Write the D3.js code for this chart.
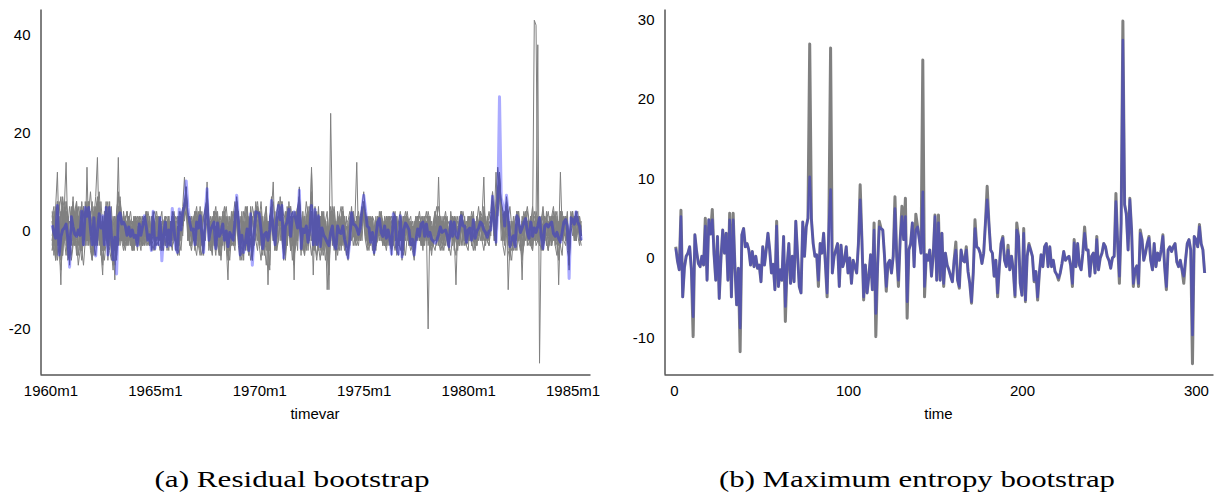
<!DOCTYPE html>
<html><head><meta charset="utf-8">
<script src="https://cdn.jsdelivr.net/npm/d3@7"></script>
<style>
body{margin:0;background:#fff}
svg{display:block}
</style>
</head><body>
<svg id="chart" width="1219" height="493"></svg>
<script>
// Original series (same series drawn in blue in both panels), t = 1..305
const original = [
1.2,-0.4,-1.5,5.2,-4.9,-1.2,0.2,0.6,1.4,-1.5,
-7.4,2.9,0.8,-0.7,-1.1,0.2,-0.9,4.0,-2.8,4.8,
3.0,4.8,0.5,-2.8,2.7,-5.1,0.0,3.5,0.6,3.1,
-2.8,4.8,-4.9,4.8,-1.0,-5.9,-1.3,-8.8,2.9,3.7,
1.4,1.8,1.0,-0.9,0.8,-1.1,0.2,-1.3,-0.9,-3.0,
1.4,-0.9,1.0,3.1,1.0,-1.9,-0.8,-4.0,4.0,-3.6,
-1.5,-2.8,2.7,-6.1,-1.0,1.8,-3.2,0.2,-3.0,4.6,
0.5,-3.6,-4.4,4.5,0.2,3.9,5.0,10.2,4.8,1.8,
0.2,0.4,-2.8,1.8,0.6,3.1,-0.7,-4.4,3.9,8.6,
-1.9,0.2,1.0,1.8,-3.6,1.6,-1.1,-0.3,1.4,-1.9,
0.0,-3.2,-0.3,-1.1,-1.9,1.8,7.3,2.3,-4.9,-0.9,
-4.4,-2.3,0.4,-4.0,3.5,-7.0,-1.1,3.9,3.7,3.5,
0.2,-3.6,-0.7,-0.3,-1.9,0.2,6.2,0.2,-2.8,2.3,
5.2,2.3,5.2,-5.5,1.0,1.8,4.4,-1.1,3.5,3.9,
2.3,0.6,8.3,-3.6,0.4,-0.3,1.0,-2.3,0.4,5.2,
-2.8,4.4,-2.8,3.1,-3.2,0.6,-0.9,-1.5,-2.3,-3.0,
-0.3,1.0,-2.8,-3.6,1.0,-0.3,-0.5,1.0,-1.7,-3.2,
-5.5,-1.9,3.7,1.4,1.2,0.6,-0.7,0.6,4.4,7.3,
4.4,1.0,0.6,-2.3,-0.3,-4.4,-1.1,1.8,2.5,-0.3,
-1.1,1.0,-1.5,0.2,-1.5,-4.7,3.5,2.7,-3.2,-4.7,
3.1,-5.3,0.2,1.6,1.0,0.2,-2.8,-1.7,-4.9,-1.9,
0.4,-1.1,1.4,1.8,-1.1,1.4,-1.1,-0.3,-1.7,-2.1,
-2.5,-1.9,-0.7,0.8,-0.3,0.0,0.2,-1.0,-3.2,1.9,
-1.1,1.8,-0.9,-1.5,0.6,3.1,1.0,1.0,-2.3,0.2,
0.6,-1.9,2.3,-1.5,0.0,0.6,1.8,1.4,0.2,-0.3,
-1.3,0.0,0.2,7.1,1.8,-2.3,4.4,27.4,6.7,5.2,
1.0,7.3,3.5,-3.2,-1.5,-1.0,-3.2,3.1,2.3,-0.3,
0.6,1.8,2.5,-0.3,-1.5,1.8,-1.1,0.6,-0.3,1.0,
2.7,-1.1,-3.6,1.0,1.4,0.8,1.4,1.8,-0.5,-1.1,
-0.3,-1.5,-2.3,-0.3,1.8,2.3,1.0,-9.7,2.7,2.3,
1.4,3.9,1.8,1.0,-1.9];

// Maximum entropy bootstrap replicate envelope (gray, right panel)
const entropyReplicate = [
1.4,-0.4,-1.5,6.0,-4.9,-1.2,0.2,0.6,1.4,-1.5,
-9.9,2.9,0.8,-0.7,-1.1,0.2,-0.9,5.0,-2.8,4.8,
3.0,6.1,0.5,-2.8,2.7,-5.1,0.0,3.5,0.6,3.1,
-2.8,5.6,-4.9,5.6,-1.0,-5.9,-1.3,-11.8,2.9,3.7,
1.4,1.8,1.0,-0.9,0.8,-1.1,0.2,-1.3,-0.9,-3.0,
1.4,-0.9,1.0,3.1,1.0,-1.9,-0.8,-4.0,4.6,-3.6,
-1.5,-2.8,2.7,-8.0,-1.0,1.8,-3.2,0.2,-3.0,4.6,
0.5,-3.6,-4.4,4.5,0.2,3.9,5.0,26.9,4.8,1.8,
0.2,0.4,-3.6,1.8,0.6,3.1,-0.7,-4.9,3.9,26.4,
-1.9,0.2,1.0,1.8,-3.6,1.6,-1.1,-0.3,1.4,-1.9,
0.0,-3.2,-0.3,-1.1,-1.9,1.8,9.2,2.3,-5.3,-0.9,
-4.4,-2.3,0.4,-4.0,4.4,-9.9,-1.1,4.6,3.7,3.5,
0.2,-4.2,-0.7,-0.3,-1.9,0.2,7.7,0.2,-3.6,2.3,
6.5,2.3,7.5,-7.6,1.0,1.8,4.4,-1.1,5.5,3.9,
2.3,0.6,24.9,-4.9,0.4,-0.3,1.0,-2.3,0.4,5.4,
-2.8,5.4,-2.8,3.1,-3.6,0.6,-0.9,-1.5,-2.3,-3.0,
-0.3,2.0,-2.8,-3.8,1.0,-0.3,-0.5,1.4,-1.7,-3.2,
-5.7,-1.9,4.8,1.4,1.2,0.6,-0.7,0.6,4.4,9.0,
4.4,1.0,0.6,-2.3,-0.3,-4.9,-1.1,1.8,2.7,-0.3,
-1.1,1.6,-1.5,0.2,-1.5,-4.9,4.4,2.7,-3.2,-4.7,
3.7,-5.5,0.2,1.8,1.0,0.2,-3.0,-1.7,-5.3,-1.9,
0.4,-1.1,1.4,1.8,-1.1,1.4,-1.1,-0.3,-1.7,-2.1,
-2.8,-1.9,-0.7,0.8,-0.3,0.0,0.2,-1.0,-3.6,2.3,
-1.1,1.8,-0.9,-1.5,0.6,3.9,1.0,1.0,-2.3,0.2,
0.6,-1.9,2.7,-1.5,0.0,0.6,1.8,1.4,0.2,-0.3,
-1.3,0.0,0.2,8.1,1.8,-3.2,4.4,29.8,6.7,5.6,
1.0,7.5,3.5,-3.6,-1.5,-1.0,-3.6,3.5,2.3,-0.3,
0.6,1.8,2.7,-0.3,-1.5,1.8,-1.1,0.6,-0.3,1.0,
2.9,-1.1,-4.0,1.0,1.4,0.8,1.4,1.8,-0.5,-1.1,
-0.3,-1.5,-3.2,-0.3,1.8,2.3,1.0,-13.3,2.7,2.3,
1.4,4.2,1.8,1.0,-1.9];

// Residual bootstrap replicates (gray, left panel)
const rep1 = [2,-3,5,12,-2,1,-4,3,0,-5,-6,4,1,-2,3,-1,5,2,-3,6,1,4,-2,-5,3,7,15,-1,2,-4,3,5,-6,2,-2,-7,1,-3,4,6,2,-1,3,0,-2,1,-3,2,-1,-4,1,3,-2,2,4,-1,0,-3,2,-4,0,-2,3,-3,1,2,-4,1,-2,3,1,-3,-2,4,2,5,11,6,3,-1,2,0,-4,3,1,2,-2,-5,4,7,-1,2,0,3,-4,2,-2,1,3,-3,1,-4,0,-2,-3,2,6,3,-5,1,-4,-1,2,-5,5,-6,0,4,5,3,1,-4,2,-1,-3,1,7,0,-3,4,6,2,5,-6,3,1,5,-2,4,2,3,-1,9,-4,2,-2,1,-3,2,7,-3,5,-2,4,-4,1,-3,-1,-4,-6,24,2,-3,-4,3,-1,1,2,-3,-4,-6,-2,4,2,0,3,-2,1,5,8,4,2,-1,-3,1,-5,-2,3,2,0,-2,1,-3,2,-1,-5,4,3,-4,-5,3,-6,1,2,0,1,-3,-2,-5,-1,2,-2,3,1,-2,2,-3,0,-2,-3,-4,-1,1,2,-1,1,0,-2,-4,3,-2,3,-1,-3,1,4,2,0,-3,1,2,-3,3,-2,1,0,3,2,1,-1,-2,1,0,8,3,-3,6,11,6,4,2,7,4,-4,-2,0,-4,4,3,-1,1,3,2,-1,-2,3,1,43,42,2,2,-1,-4,2,1,0,2,3,-1,-2,0,-2,12,0,2,3,1,-8,3,2,1,4,2,0,-2];
const rep2 = [-3,4,-6,1,-2,-11,3,-1,6,2,-4,1,7,-3,2,-5,0,4,-2,1,5,-3,2,6,-4,1,-2,3,-5,2,-1,4,-3,6,-5,2,3,1,15,-2,1,-3,2,4,-1,0,-4,3,1,-2,2,-1,-3,1,3,-2,2,-1,0,-3,3,-1,2,-4,0,3,-2,2,-3,1,-2,2,-4,3,1,-1,6,9,-2,3,-3,2,0,4,-2,5,-3,-1,2,6,-4,1,3,-2,-5,0,2,-3,4,-1,2,-5,1,3,-2,-4,5,1,-3,4,-6,2,-1,-3,4,-5,1,6,0,2,-3,2,-5,3,-11,2,4,-2,1,-4,3,5,-1,-4,2,-3,6,1,-2,4,-1,3,6,-5,4,-1,-3,2,5,-2,1,-4,3,-2,2,-5,4,-1,-3,2,5,-2,1,-6,2,3,-4,0,2,-2,-3,1,5,-1,3,14,-2,2,1,4,2,-3,0,1,-4,-2,3,-1,4,-2,1,-3,2,-1,3,-2,1,4,-5,0,-2,3,-4,2,1,-3,2,-1,-3,1,3,-2,0,-4,2,1,-1,3,-2,0,1,-3,2,-1,3,-2,2,1,-2,-1,2,-4,1,3,-2,1,-3,2,0,-2,3,-1,-2,2,-3,1,4,-1,2,1,0,-2,3,5,-1,2,8,10,3,-2,4,2,-3,1,-2,3,0,-4,2,1,-3,2,4,-1,2,-3,1,3,2,38,-27,1,3,-2,4,-1,2,-3,1,4,-2,1,-3,3,-1,2,-4,-6,2,4,-1,3,0,2,-1];
const rep3 = [4,-2,1,-5,6,2,-3,5,14,-1,-5,3,-2,1,6,-3,2,-4,5,0,-2,6,3,-1,-4,2,5,-3,1,-2,4,-1,-5,3,2,-1,-10,4,1,-3,3,0,-2,2,-3,1,2,-1,3,-2,-1,2,1,-3,2,0,-2,3,-1,1,2,-3,1,0,-2,3,-1,-3,2,-2,3,-1,-3,2,4,1,5,8,-1,2,1,-2,3,-1,2,-3,4,-3,1,5,2,-2,-1,4,-2,3,-4,2,-1,3,-3,-10,2,1,-2,4,3,-2,-4,2,-1,-3,4,-2,2,-4,3,1,5,-1,2,-1,-3,4,-4,2,5,-1,-2,3,1,4,3,-2,-3,5,2,-4,3,1,-2,4,5,-3,1,-2,3,-4,1,13,-1,2,-3,5,-2,3,-4,2,-1,-5,2,-3,4,-1,-2,2,-3,4,1,-2,-4,2,3,-1,2,-2,1,3,2,6,3,-1,2,-2,3,-4,1,-2,3,1,-3,2,0,-1,2,-3,3,1,-2,-3,2,-4,3,-1,2,-2,1,-3,-2,1,-1,2,-3,3,0,1,-20,2,-1,1,-2,1,3,-1,2,-2,1,-3,-1,2,1,-2,2,-1,3,2,-2,1,-3,2,-1,2,1,-2,3,-1,2,3,11,-2,1,-2,2,6,0,-1,9,12,4,3,-1,5,2,-2,-3,1,-2,3,1,-2,2,-1,3,1,-2,2,-3,2,1,-1,3,-2,-1,2,-3,1,3,-1,2,-2,1,-3,2,-2,3,1,-1,-5,4,1,2,1,3,-1,0];
const rep4 = [-2,3,-4,2,-1,4,-5,1,3,-6,-3,2,5,-1,-4,3,-2,6,1,-3,13,-2,4,-3,1,5,-2,2,-4,-9,2,3,-2,4,1,-4,2,-5,3,1,-2,4,1,-3,2,-1,1,-4,2,0,3,-2,2,-1,-3,2,1,-4,3,-2,-2,1,3,-2,-4,2,0,3,-1,2,1,-4,-1,3,-2,4,6,7,2,-1,-1,3,-2,2,-3,1,3,-3,2,4,3,-1,-3,2,-2,4,-1,-2,2,-4,3,-2,-1,4,-3,1,4,-1,-2,3,-3,1,-4,2,3,-5,2,3,-2,4,-1,3,-2,-4,2,-1,4,10,-2,1,4,-2,3,-3,2,4,-1,2,-3,3,2,-4,6,-2,3,1,-4,2,-1,4,-4,3,-1,2,-3,4,-2,1,-12,-3,3,1,-4,2,-1,-3,2,1,-2,3,-2,-1,2,4,-3,2,1,-1,3,5,1,3,-2,-1,2,-3,-2,2,-1,3,2,-1,-2,3,-3,1,2,-2,1,-2,-1,2,-3,3,-2,2,0,-3,1,-2,2,1,-2,-1,3,-2,2,-4,1,-1,3,-1,11,-2,1,-3,2,0,-2,1,-3,2,2,-2,1,3,-1,-2,2,-1,1,-3,4,-1,-2,2,1,-1,3,0,2,1,-1,5,2,-3,7,9,2,3,3,4,-12,-2,2,-1,-3,2,4,-2,1,-2,3,-3,2,1,-1,2,-2,3,1,2,-3,3,-1,2,-2,1,3,-3,2,-1,4,-2,-1,3,2,-4,1,3,-2,2,1,3,0];
const rep5 = [1,-5,3,4,-3,2,6,-2,-1,3,-7,1,-2,4,-1,2,-3,1,4,-2,2,5,-3,-6,4,-1,3,-2,6,1,-4,2,1,-3,5,-2,-1,3,-3,4,1,-2,3,-1,1,-3,2,0,-2,1,-2,1,3,-1,2,-2,-3,1,3,-1,1,-2,0,-3,2,-1,2,-2,-1,4,-1,2,-3,1,3,2,4,6,3,-2,2,-1,-3,1,2,4,-2,-3,1,10,-2,3,1,-1,-2,3,1,-2,2,-1,-2,1,-4,2,-1,3,5,2,-3,-1,2,-3,1,-4,3,-2,-1,2,3,4,-2,1,-1,2,-3,-1,3,1,-4,2,2,3,4,-3,-1,2,3,-1,2,-10,4,-2,3,-1,-2,2,-3,1,3,2,-2,1,-1,3,-2,2,-1,-3,2,-4,1,3,-2,-1,2,-2,1,-1,3,-3,-1,2,1,3,-2,1,-1,2,3,4,-2,1,3,-2,-1,-3,2,1,-2,2,-1,3,-2,1,-1,-2,3,-1,2,-3,1,-2,2,-1,3,-1,-2,1,-3,2,-1,1,2,-2,1,-1,3,-2,-3,2,1,-2,3,1,-2,2,-1,1,-3,2,2,-1,-11,1,-2,3,2,-1,1,-2,-1,2,-2,1,2,-1,3,1,-2,2,1,-1,2,4,-2,5,13,8,3,1,-2,3,1,-1,2,-3,1,2,-2,1,-1,2,1,-2,1,3,-2,-1,2,-2,1,3,-2,1,2,-1,3,-2,1,-2,3,-11,1,-1,2,-2,1,-4,3,1,2,-1,3,1,-2];
const rep6 = [-1,2,-2,6,-4,1,-1,4,-3,2,-2,5,-1,-3,1,3,-4,2,-1,4,-2,3,2,-4,5,-3,2,4,-1,-3,1,6,-2,3,-4,-3,2,-6,5,2,-1,2,-2,1,3,-2,1,-1,0,-3,2,-1,1,2,-2,1,-2,-2,3,-3,-1,2,1,-4,-1,2,-2,1,-3,3,2,-2,-3,3,1,2,3,9,2,1,-1,2,-3,2,1,3,-1,-4,2,5,-1,1,2,-1,-3,2,-2,1,2,-2,1,-3,-1,2,-2,1,6,1,-4,2,-3,-2,2,-3,4,-4,1,3,2,1,1,-3,1,-2,-1,2,5,1,-2,2,3,1,4,-4,2,1,3,-1,2,3,1,-2,5,-3,1,-1,2,-2,1,4,-9,3,-1,2,-2,1,-1,-2,-3,-2,3,1,-2,-3,2,-1,0,2,-2,-3,-4,-1,3,1,2,1,-1,1,3,5,3,1,1,-2,0,-3,-1,2,2,0,-1,1,-2,1,-1,-4,3,2,-2,-3,2,-4,1,2,1,0,-2,-1,-3,-1,1,-1,2,1,-1,2,-2,0,-1,-2,-2,-1,0,1,0,1,0,-1,-2,2,-1,2,-1,-2,1,3,1,1,-2,0,1,-2,2,-1,0,1,2,1,0,-1,-1,0,1,6,2,12,3,7,5,4,1,5,2,-3,-1,-1,-3,3,2,0,-10,2,2,0,-1,2,-1,1,0,1,2,-1,-3,1,1,1,1,2,0,-1,0,-1,-2,0,2,2,1,-7,2,2,1,3,2,1,-1];
const rep7 = [3,-1,2,-3,1,-4,5,-2,4,-3,-4,2,3,-2,5,-1,2,-3,1,3,-3,4,-1,2,-2,4,-3,5,2,-1,2,-2,4,-3,-1,3,-4,2,-2,5,-2,3,1,-2,0,2,-1,3,-3,1,1,-3,2,1,-1,3,-2,0,2,-2,3,-1,-2,2,1,-3,2,-1,2,-3,-2,1,3,-1,2,3,2,5,1,3,-2,1,2,-3,3,-1,2,-2,3,4,1,-2,2,-3,1,-2,3,-1,-3,2,-1,3,-2,-3,2,-1,3,4,-2,1,2,-4,3,-1,-2,3,-3,2,4,-2,3,-2,1,-3,2,-4,3,2,1,-3,-2,4,2,1,-3,3,2,-3,1,-4,3,1,4,-2,-3,3,-1,2,-2,12,2,-3,1,-4,3,-2,2,-3,1,-12,4,-1,2,-2,3,1,-3,2,-1,1,-3,3,-2,1,-1,2,3,-2,1,3,2,-2,3,1,-2,1,-3,2,-1,3,-2,2,1,-3,2,-1,2,-2,3,-1,1,-3,2,-2,3,-1,1,2,-2,3,-2,1,-1,3,-2,2,1,-1,2,-3,2,1,-2,3,-1,2,-3,1,2,-1,3,-2,1,2,-3,1,-1,3,-2,2,-2,1,3,-1,2,-2,1,-1,2,3,-1,2,1,3,-2,4,6,10,2,-1,2,3,-1,2,-3,2,1,-2,3,-1,2,-3,1,2,-1,3,-2,1,-2,2,-1,2,1,-2,3,1,-2,2,-1,3,-2,2,-1,1,3,-2,2,-3,1,-1,3,-2,1,2,1];
const rep8 = [-4,1,4,-2,3,-6,2,5,-2,1,2,-3,4,1,-5,2,4,-1,-3,2,4,-2,1,3,-3,-2,6,1,-4,3,-3,2,5,-2,1,-3,3,-4,-1,6,3,-1,1,-3,2,-2,-1,2,1,-1,-3,2,0,2,-2,1,3,-2,-1,2,-1,3,-2,1,-3,1,2,-2,1,-1,3,-2,1,-3,2,1,3,4,-2,2,3,-1,1,-2,4,-2,1,3,-2,3,-3,2,-1,4,-2,-3,1,3,-1,2,2,-1,3,-2,1,-3,2,-1,3,-2,1,2,-3,3,-1,2,4,-2,1,-3,4,-1,2,1,-3,3,2,-2,4,-1,-1,3,-2,2,4,-3,1,3,-1,2,-3,2,4,-1,2,-4,3,1,-2,3,1,-2,4,-1,3,-3,1,2,-4,1,-2,3,1,-3,4,-1,2,-3,1,2,2,-3,1,2,-2,3,-1,2,-2,4,-1,2,-2,3,1,-3,2,-1,3,-2,2,-1,3,-2,1,2,-3,1,-1,2,-2,1,3,-1,2,-3,1,-1,2,-2,3,-1,2,-3,1,2,-1,3,-2,1,-1,2,-3,1,2,-1,3,-2,1,2,-2,1,3,-1,2,-3,1,2,-1,3,-2,3,1,-2,2,-1,3,-2,1,-1,3,-1,2,4,1,3,5,8,-2,1,-3,2,4,-1,2,1,-3,2,1,-2,3,1,-2,2,-1,3,1,-2,2,1,-2,3,-1,2,1,-3,2,1,-2,3,1,-2,3,-1,2,1,-2,-3,2,1,-1,2,1,-2,2];
const rep9 = [3,5,-2,-6,-3,2,7,4,-1,-5,-3,1,6,3,-2,-7,-4,2,5,1,-2,4,8,3,-3,-5,1,6,-1,-6,-2,3,5,-1,-4,-8,-2,4,7,2,-1,-3,2,4,1,-2,-4,-1,3,2,-2,-4,1,3,2,-1,-3,0,4,1,-3,-2,2,4,-1,-3,1,3,-2,-4,1,3,2,-2,-4,1,5,8,3,-2,-4,-1,3,5,1,-3,-5,-2,4,7,2,-3,-5,1,4,2,-2,-6,-1,3,5,1,-4,-2,3,6,2,-3,-6,-1,4,2,-3,-5,1,5,3,-2,-4,2,6,1,-3,-7,-2,3,5,1,-4,-2,3,7,2,-3,-5,1,4,-1,-6,-2,3,5,1,-4,-3,2,6,3,-2,-5,-1,4,2,-3,-6,-2,3,1,-4,-7,-1,3,5,1,-3,-4,2,4,-1,-3,-2,1,4,2,-2,-3,1,3,5,2,-2,-4,-1,2,3,-1,-3,-2,2,4,1,-2,-3,1,3,2,-2,-4,-1,2,4,1,-3,-5,-1,2,3,-1,-4,-2,2,4,1,-3,-2,1,3,-2,-5,-1,3,5,1,-2,-4,-1,2,3,-3,-5,-1,3,2,-2,-3,1,4,2,-3,-4,1,3,-1,-3,2,5,1,-2,-4,-1,2,4,1,6,3,-2,5,11,4,-3,-5,-1,3,5,1,-4,-2,3,4,-1,-5,-3,2,4,1,-2,-4,1,3,-1,-3,2,5,1,-2,-4,-1,3,2,-3,-5,1,4,2,-2,-3,2,-6,3,1,-2,3,4,-1,-3];
const rep10 = [-4,-1,3,6,2,-3,-5,1,4,2,-2,-6,-3,2,5,3,-1,-4,-2,3,6,2,-3,-5,1,4,7,2,-3,-7,-2,4,6,1,-3,-6,-1,3,8,3,-2,-4,-1,2,3,0,-3,-2,1,3,1,-2,-3,1,4,2,-1,-3,-2,2,4,1,-2,-4,-1,2,3,-1,-3,1,3,-1,-4,-2,2,4,6,7,1,-3,-2,2,4,1,-3,-5,-1,3,5,6,1,-4,-2,3,5,1,-3,-5,2,4,-1,-5,-2,3,1,4,6,-1,-5,-3,2,5,1,-4,-2,-6,1,4,6,2,-3,-5,1,3,-2,-4,5,2,-3,-1,4,2,6,-2,-6,-1,3,5,1,-5,-3,2,6,2,-3,-5,1,4,3,7,-2,-4,1,3,-1,-3,-5,2,4,-4,2,4,-1,-4,-2,3,5,1,-2,-5,-3,1,3,-1,-2,2,4,1,3,6,2,-1,-3,-1,2,-2,-4,1,3,1,-2,-3,1,3,1,-4,-2,2,3,-2,-4,-1,2,4,1,-2,-4,-3,1,3,2,-1,-3,-2,2,4,1,-2,-4,1,4,2,-1,-3,-2,2,4,1,-3,-1,3,1,-2,-4,1,3,2,-2,-1,3,2,-2,-4,-1,3,1,-2,2,4,1,-2,-3,2,5,4,3,7,12,2,-2,3,6,1,-3,-4,-1,3,2,-2,-4,1,4,2,-2,-3,2,5,1,-3,-2,3,1,-4,-2,2,4,1,-3,-1,2,4,-1,-3,-5,1,3,1,-4,2,4,1,-2,2,3,-1];
const rep11 = [2,-3,-6,-1,4,7,3,-2,-5,1,5,2,-3,-1,3,5,1,-4,-7,-2,3,6,1,-2,-5,-1,4,8,2,-3,-6,-2,3,5,2,-4,-7,1,5,4,1,-2,-4,-1,2,4,1,-3,-1,2,3,1,-3,-2,1,4,2,-2,-4,-1,2,3,-1,-3,1,3,-2,-4,1,3,2,-3,-5,1,3,2,5,9,2,-1,3,1,-3,-5,-1,4,2,-4,2,8,3,-2,-4,1,3,-1,-5,-2,3,5,1,-3,-6,-1,4,2,5,1,-4,-6,-2,3,5,1,-3,-5,2,4,1,-3,-6,-1,3,5,-3,-7,4,2,-1,3,6,1,-2,-5,3,4,1,-4,-2,-7,2,5,7,-1,-4,-2,3,5,-1,4,1,-3,-5,-1,3,2,-2,-6,-3,-5,3,5,2,-3,-4,1,3,-1,-4,-2,2,4,1,-3,-1,3,2,-2,1,5,3,-2,-1,2,-3,-5,-1,3,2,-1,-3,1,3,2,-2,-4,1,3,-1,-3,2,-3,-5,1,3,2,-2,-4,-6,-2,1,3,2,-1,-3,1,4,2,-2,-3,-1,3,5,2,-2,-4,-1,2,-2,4,1,-3,-5,-1,2,4,1,-3,-2,2,3,1,-2,-4,-1,2,4,3,-1,-3,1,3,4,8,-1,4,9,10,6,1,-2,5,3,-4,-6,-1,2,4,1,-3,-6,-2,3,5,2,-3,-4,1,4,2,-2,-4,1,3,2,-1,-3,2,4,-1,-3,-6,2,4,1,-2,3,-7,1,3,2,4,-1,-3,1];
const rep12 = [-2,1,5,3,-4,-8,-3,2,6,3,-1,-5,-2,4,6,1,-3,-6,-1,4,5,1,-4,-6,-2,3,6,2,-3,-4,2,5,1,-4,-6,-3,2,-5,3,7,2,-1,-3,1,3,2,-2,-4,-1,1,-2,1,3,2,-1,-3,-2,1,3,4,1,-2,-4,-1,2,3,-1,-3,-2,2,4,1,-3,-5,1,3,5,7,4,-2,-3,1,4,2,-2,-4,1,3,4,5,-2,-4,1,4,2,-3,-5,-1,3,2,-2,-6,-3,2,4,1,7,3,-3,-5,-1,3,5,-2,-6,-4,1,3,5,1,-2,-4,2,5,-3,-8,4,6,2,-4,-2,4,6,3,-4,-2,2,5,-1,-4,1,4,7,3,-2,-5,-1,3,4,8,2,-3,-6,-2,1,4,2,-3,-5,-9,1,4,2,-2,-5,-1,3,5,1,-3,-5,-2,2,4,1,-2,-3,1,4,5,2,-2,-4,-1,3,2,-3,-1,2,4,1,-2,-4,-1,2,3,1,-3,-4,-1,3,-5,-2,2,4,1,-3,-2,-5,1,3,1,-2,-3,1,3,2,-1,-3,2,4,1,-2,-4,-1,3,2,-2,-4,1,3,2,-2,-3,1,4,2,-1,-3,-2,1,4,2,-1,-3,1,3,-2,5,2,-2,-3,1,5,3,6,8,10,4,1,3,5,-4,-6,-1,2,-3,4,2,-2,-4,1,3,2,-2,-3,1,4,2,-1,-3,2,4,1,-2,-4,-1,3,5,1,-2,-5,3,2,-1,1,4,-5,2,3,1,-2,3,2,-1];
const residualReplicates = [rep1, rep2, rep3, rep4, rep5, rep6, rep7, rep8, rep9, rep10, rep11, rep12];

// Tick values / labels
const leftXTicks = [0, 60, 120, 180, 240, 300];
const leftXLabels = ["1960m1", "1965m1", "1970m1", "1975m1", "1980m1", "1985m1"];
const leftYTicks = [-20, 0, 20, 40];
const rightXTicks = [0, 100, 200, 300];
const rightYTicks = [-10, 0, 10, 20, 30];
const leftXTitle = "timevar";
const rightXTitle = "time";
const captions = ["(a) Residual bootstrap", "(b) Maximum entropy bootstrap"];

const svg = d3.select("#chart");
const sans = "'Liberation Sans', Arial, Helvetica, sans-serif";
const GRAY = "#808080";
const BLUE = "rgba(0,0,255,0.33)";

function panel(opts) {
  const g = svg.append("g");
  const x = d3.scaleLinear().domain(opts.xDomain).range([opts.left, opts.right]);
  const y = d3.scaleLinear().domain(opts.yDomain).range([opts.bottom, opts.top]);
  const line = d3.line().x((d, i) => x(opts.t0 + i)).y(d => y(d)).curve(d3.curveLinear);

  opts.grays.forEach(s => {
    g.append("path").datum(s).attr("d", line)
      .attr("fill", "none").attr("stroke", GRAY)
      .attr("stroke-width", opts.grayWidth).attr("stroke-linejoin", "round");
  });
  g.append("path").datum(opts.blue).attr("d", line)
    .attr("fill", "none").attr("stroke", BLUE)
    .attr("stroke-width", opts.blueWidth).attr("stroke-linejoin", "round");

  const xAxis = d3.axisBottom(x).tickValues(opts.xTicks).tickSize(0).tickSizeOuter(0).tickPadding(11);
  if (opts.xLabels) xAxis.tickFormat((d, i) => opts.xLabels[i]);
  else xAxis.tickFormat(d => String(d));
  const gx = g.append("g").attr("transform", `translate(0,${opts.bottom + 0.5})`).call(xAxis);
  const yAxis = d3.axisLeft(y).tickValues(opts.yTicks).tickSize(0).tickSizeOuter(0).tickPadding(10).tickFormat(d => String(d));
  const gy = g.append("g").attr("transform", `translate(${opts.left + 0.5},0)`).call(yAxis);
  [gx, gy].forEach(a => {
    a.select(".domain").attr("stroke", "#000").attr("stroke-width", 1);
    a.selectAll("text").attr("font-family", sans).attr("font-size", 15).attr("fill", "#000");
  });
  g.append("text").attr("x", (opts.left + opts.right) / 2).attr("y", 419)
    .attr("text-anchor", "middle").attr("font-family", sans).attr("font-size", 15)
    .attr("fill", "#000").text(opts.xTitle);
}

panel({
  left: 40, right: 590, top: 9, bottom: 374,
  xDomain: [-6, 310], yDomain: [-29.2, 45.3], t0: 1,
  grays: residualReplicates, blue: original,
  grayWidth: 1, blueWidth: 3,
  xTicks: leftXTicks, xLabels: leftXLabels, yTicks: leftYTicks, xTitle: leftXTitle
});
panel({
  left: 664, right: 1213, top: 9, bottom: 374,
  xDomain: [-5.75, 309.8], yDomain: [-14.6, 31.3], t0: 1,
  grays: [entropyReplicate], blue: original,
  grayWidth: 3, blueWidth: 2.6,
  xTicks: rightXTicks, xLabels: null, yTicks: rightYTicks, xTitle: rightXTitle
});

const capPos = [[292, 275], [917, 396]];
captions.forEach((c, i) => {
  svg.append("text").attr("x", capPos[i][0]).attr("y", 487)
    .attr("text-anchor", "middle")
    .attr("font-family", "'Liberation Serif', 'Times New Roman', serif")
    .attr("font-size", 24).attr("fill", "#000")
    .attr("textLength", capPos[i][1]).attr("lengthAdjust", "spacingAndGlyphs")
    .text(c);
});
</script>
</body></html>
